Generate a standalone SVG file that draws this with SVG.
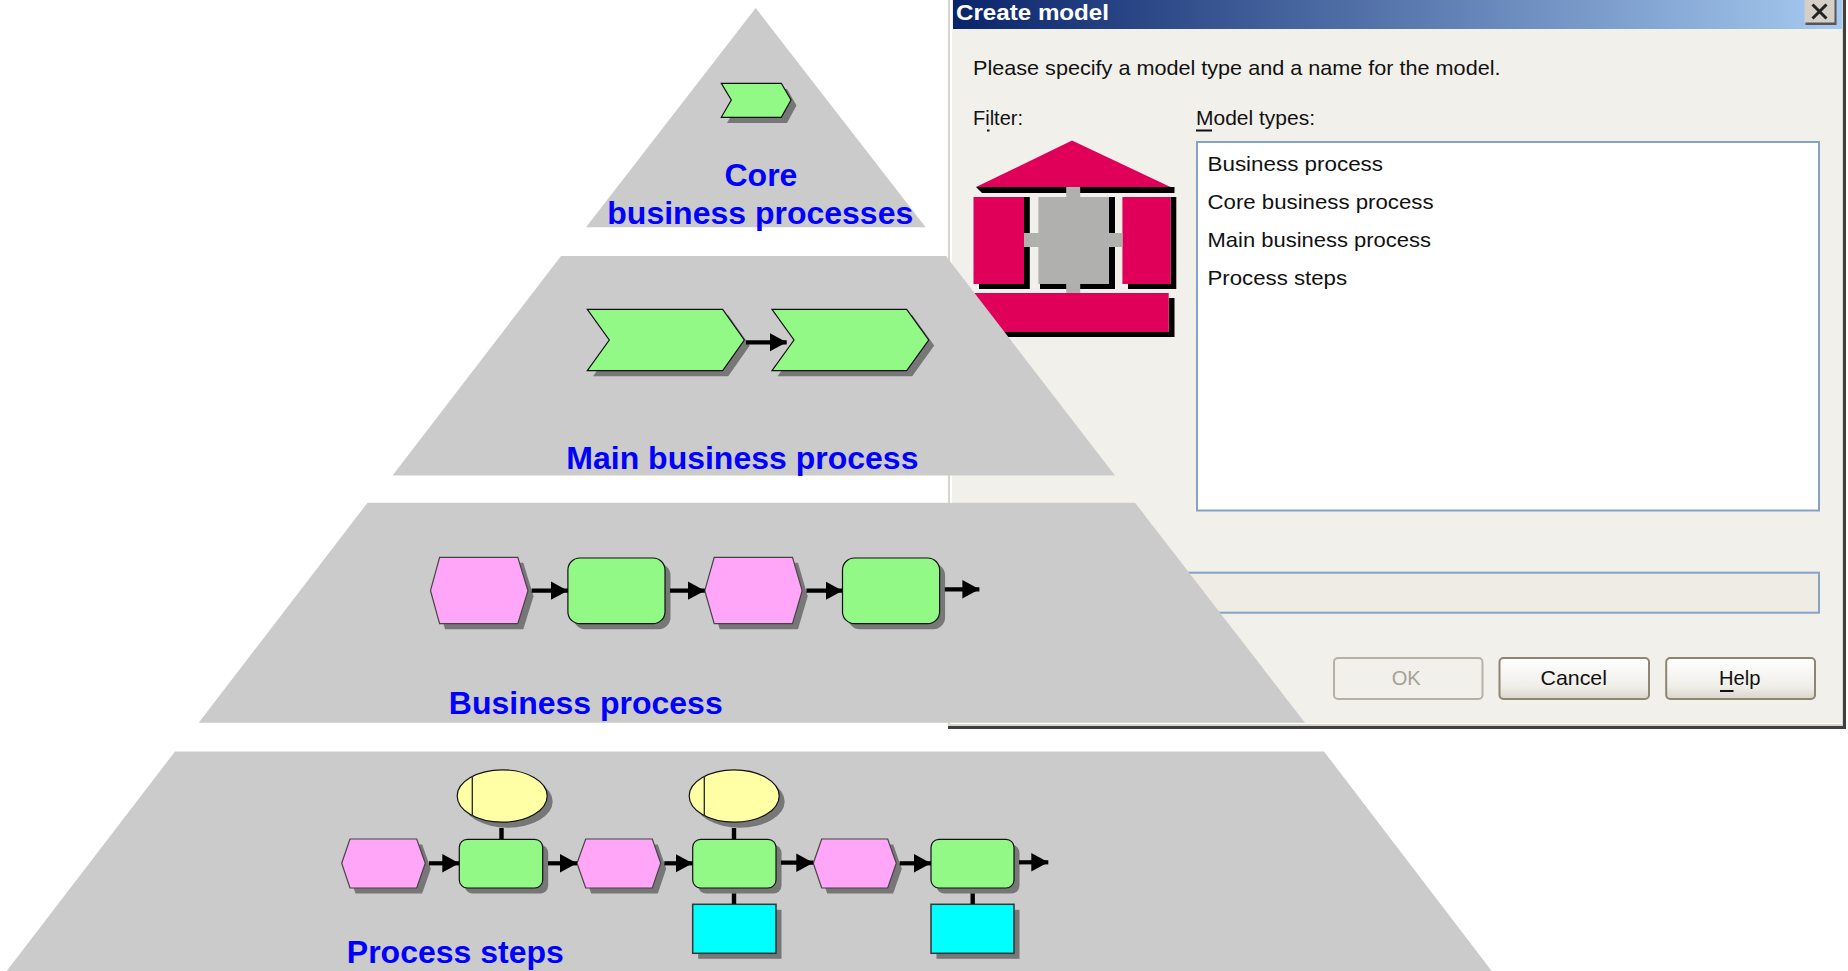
<svg xmlns="http://www.w3.org/2000/svg" width="1848" height="971" viewBox="0 0 1848 971">
<style>
text{font-family:"Liberation Sans",Arial,sans-serif}
.layer{fill:#cbcbcb}
.lbl{font-size:32px;font-weight:bold;fill:#0000ff}
.ui{font-size:21px;fill:#111}
.sh{fill:#777}
.chev,.fn{fill:#92f986;stroke:#111;stroke-width:1.2}
.ev{fill:#ffa6f9;stroke:#444;stroke-width:1.2}
.org{fill:#ffffa6;stroke:#111;stroke-width:1.2}
.info{fill:#00ffff;stroke:#333;stroke-width:1.5}
.box{fill:#fff;stroke:#86a3c4;stroke-width:2}
.btn{fill:url(#btnG);stroke:#8d8672;stroke-width:2}
.rose{fill:#e0005a}.blk{fill:#000}.gry{fill:#b0b0ae}
.arrow{stroke:#000;stroke-width:4.2;fill:none;marker-end:url(#head)}
.stub{stroke:#000;stroke-width:4.4;fill:none}
</style>
<defs>
<marker id="head" markerUnits="userSpaceOnUse" markerWidth="18" markerHeight="19" refX="17" refY="9.5" orient="auto"><path d="M0 0.300L17 9.500L0 18.700Z" fill="#000"/></marker>
<linearGradient id="title" x1="0" x2="1" y1="0" y2="0"><stop offset="0" stop-color="#0a246a"/><stop offset="1" stop-color="#a6caf0"/></linearGradient>
<linearGradient id="btnG" x1="0" x2="0" y1="0" y2="1"><stop offset="0" stop-color="#fff"/><stop offset=".7" stop-color="#f0eee8"/><stop offset="1" stop-color="#d9d5ca"/></linearGradient>
</defs>
<rect width="1848" height="971" fill="#fff"/>

<g id="dialog">
<rect x="948" y="-2" width="898" height="731" fill="#404040"/>
<rect x="948" y="-2" width="895" height="728" fill="#d8d5cc"/>
<rect x="950" y="-2" width="892" height="726" fill="#fff"/>
<rect x="952" y="-2" width="890" height="725" fill="#f1f0eb"/>
<rect x="953" y="-2" width="889" height="31" fill="url(#title)"/>
<text x="956" y="20" font-size="22" font-weight="bold" fill="#fff" textLength="153" lengthAdjust="spacingAndGlyphs">Create model</text>
<rect x="1805.500" y="-2" width="31" height="27" fill="#555"/>
<rect x="1804.500" y="-2" width="30" height="24.500" fill="#d4d0c8"/>
<path d="M1812.500 4.500L1826.500 18.500M1826.500 4.500L1812.500 18.500" stroke="#222" stroke-width="3"/>
<text class="ui" x="973" y="75" textLength="527.500" lengthAdjust="spacingAndGlyphs">Please specify a model type and a name for the model.</text>
<text class="ui" x="973" y="125" textLength="50" lengthAdjust="spacingAndGlyphs">Filter:</text>
<rect x="987" y="129.500" width="2.500" height="2" fill="#111"/>
<text class="ui" x="1196" y="125" textLength="119" lengthAdjust="spacingAndGlyphs">Model types:</text>
<rect x="1196" y="129.500" width="16" height="2" fill="#111"/>
<rect class="box" x="1197" y="142" width="622" height="368.500"/>
<text class="ui" x="1207.500" y="171" textLength="175.500" lengthAdjust="spacingAndGlyphs">Business process</text>
<text class="ui" x="1207.500" y="209" textLength="226" lengthAdjust="spacingAndGlyphs">Core business process</text>
<text class="ui" x="1207.500" y="247" textLength="223.500" lengthAdjust="spacingAndGlyphs">Main business process</text>
<text class="ui" x="1207.500" y="285" textLength="139.500" lengthAdjust="spacingAndGlyphs">Process steps</text>
<rect x="1150" y="572.700" width="669" height="40" fill="#efece5" stroke="#86a3c4" stroke-width="2"/>
<rect x="1334" y="658" width="148.500" height="41" rx="4" fill="#f1f0eb" stroke="#b5b2a5" stroke-width="2"/>
<text class="ui" x="1406.200" y="685" text-anchor="middle" style="fill:#a5a294" textLength="29" lengthAdjust="spacingAndGlyphs">OK</text>
<rect class="btn" x="1499.500" y="658" width="149.500" height="41" rx="4"/>
<text class="ui" x="1540.500" y="685" textLength="66.500" lengthAdjust="spacingAndGlyphs">Cancel</text>
<rect class="btn" x="1666.200" y="658" width="148.800" height="41" rx="4"/>
<text class="ui" x="1719" y="685" textLength="41.500" lengthAdjust="spacingAndGlyphs">Help</text>
<rect x="1720" y="690" width="13.500" height="2" fill="#111"/>
</g>

<g id="filter-icon">
<path class="blk" d="M976 187H1174.500V193H982Z"/>
<path class="rose" d="M1072 140.500L1170.500 187H976Z"/>
<path class="blk" d="M1024 197H1029.800V289H979V284H1024Z"/>
<rect class="rose" x="973.500" y="197" width="50.500" height="87"/>
<path class="blk" d="M1170.500 197H1176.300V289H1128V284H1170.500Z"/>
<rect class="rose" x="1122.400" y="197" width="48.100" height="87"/>
<path class="blk" d="M1109 197H1115V289H1040V284H1109Z"/>
<rect class="gry" x="1038.400" y="197" width="70.600" height="87"/>
<rect class="gry" x="1066.200" y="187" width="14" height="106"/>
<rect class="gry" x="1024" y="233" width="98.500" height="14"/>
<path class="blk" d="M1168.700 298H1174.500V337H980V332H1168.700Z"/>
<rect class="rose" x="973.500" y="293" width="195.200" height="39"/>
</g>

<g id="pyramid">
<polygon id="layer-core" class="layer" points="755.700,8 925.700,227.300 586,227.300"/>
<polygon id="layer-main" class="layer" points="561,256 946,256 1115,475.500 392.500,475.500"/>
<polygon id="layer-business" class="layer" points="367.500,502.700 1135,502.700 1305,722.800 198.700,722.800"/>
<polygon id="layer-steps" class="layer" points="175,751.500 1324,751.500 1491.700,971 6.700,971"/>
</g>

<g id="core-function">
<polygon class="sh" points="727,89 787,89 796.500,105.500 787,123 727,123 737,105.500"/>
<polygon class="chev" points="721.300,83.300 781.300,83.300 791,100 781.300,117.300 721.300,117.300 731.300,100"/>
</g>
<g id="main-function-1">
<polygon class="sh" points="593,315 728.200,315 749.800,345.500 728.200,376.200 593,376.200 615,345.500"/>
<polygon class="chev" points="587.300,309.300 722.700,309.300 744.300,340 722.700,370.700 587.300,370.700 609.300,340"/>
</g>
<g id="main-function-2">
<polygon class="sh" points="777.500,315 912.200,315 934.200,345.500 912.200,376.200 777.500,376.200 799.500,345.500"/>
<polygon class="chev" points="772,309.300 906.700,309.300 928.700,340 906.700,370.700 772,370.700 794,340"/>
</g>

<g id="bp-event-1">
<polygon class="sh" points="436,596.200 445,562.800 523.300,562.800 533.500,596.200 523.300,629.200 445,629.200"/>
<polygon class="ev" points="430.500,590.700 439.600,557.300 517.800,557.300 528,590.700 517.800,623.700 439.600,623.700"/>
</g>
<g id="bp-function-1">
<rect class="sh" x="573.400" y="563.500" width="97.100" height="65.700" rx="12"/>
<rect class="fn" x="567.900" y="558" width="97.100" height="65.700" rx="12"/>
</g>
<g id="bp-event-2">
<polygon class="sh" points="710.300,596.200 719.700,562.800 798,562.800 807.700,596.200 798,629.200 719.700,629.200"/>
<polygon class="ev" points="704.800,590.700 714.200,557.300 792.500,557.300 802.200,590.700 792.500,623.700 714.200,623.700"/>
</g>
<g id="bp-function-2">
<rect class="sh" x="848" y="563.500" width="97.100" height="65.700" rx="12"/>
<rect class="fn" x="842.500" y="558" width="97.100" height="65.700" rx="12"/>
</g>

<g id="ps-event-1">
<polygon class="sh" points="347.200,868.800 355.500,844.500 422.200,844.500 430.800,868.800 422.200,893.500 355.500,893.500"/>
<polygon class="ev" points="341.700,863.300 350,839 416.700,839 425.300,863.300 416.700,888 350,888"/>
</g>
<g id="ps-function-1">
<rect class="sh" x="464.800" y="844.800" width="83.400" height="48.700" rx="8"/>
<rect class="fn" x="459.300" y="839.300" width="83.400" height="48.700" rx="8"/>
</g>
<g id="ps-org-1">
<ellipse class="sh" cx="507.700" cy="801.500" rx="45" ry="26.200"/>
<ellipse class="org" cx="502.200" cy="796" rx="45" ry="26.200"/>
<line x1="472.300" y1="776" x2="472.300" y2="816" stroke="#222" stroke-width="1.300"/>
</g>
<g id="ps-event-2">
<polygon class="sh" points="582.500,868.800 591.200,844.500 657.800,844.500 666.200,868.800 657.800,893.500 591.200,893.500"/>
<polygon class="ev" points="577,863.300 585.700,839 652.300,839 660.700,863.300 652.300,888 585.700,888"/>
</g>
<g id="ps-function-2">
<rect class="sh" x="698.200" y="844.800" width="83.300" height="48.700" rx="8"/>
<rect class="fn" x="692.700" y="839.300" width="83.300" height="48.700" rx="8"/>
</g>
<g id="ps-org-2">
<ellipse class="sh" cx="739.700" cy="801.500" rx="45" ry="26.200"/>
<ellipse class="org" cx="734.200" cy="796" rx="45" ry="26.200"/>
<line x1="704.300" y1="776" x2="704.300" y2="816" stroke="#222" stroke-width="1.300"/>
</g>
<g id="ps-info-1">
<rect class="sh" x="698.200" y="909.800" width="83.300" height="49"/>
<rect class="info" x="692.700" y="904.300" width="83.300" height="49"/>
</g>
<g id="ps-event-3">
<polygon class="sh" points="818.800,868.800 827.200,844.500 893.200,844.500 901.800,868.800 893.200,893.500 827.200,893.500"/>
<polygon class="ev" points="813.300,863.300 821.700,839 887.700,839 896.300,863.300 887.700,888 821.700,888"/>
</g>
<g id="ps-function-3">
<rect class="sh" x="936.500" y="844.800" width="83" height="48.700" rx="8"/>
<rect class="fn" x="931" y="839.300" width="83" height="48.700" rx="8"/>
</g>
<g id="ps-info-2">
<rect class="sh" x="936.500" y="909.800" width="83" height="49"/>
<rect class="info" x="931" y="904.300" width="83" height="49"/>
</g>

<g id="connectors">
<line class="arrow" x1="746" y1="342.300" x2="786.700" y2="342.300"/>
<line class="arrow" x1="531.700" y1="590.700" x2="567.900" y2="590.700"/>
<line class="arrow" x1="670" y1="590.700" x2="704.800" y2="590.700"/>
<line class="arrow" x1="806.400" y1="590.700" x2="842.500" y2="590.700"/>
<line class="arrow" x1="944.800" y1="589.300" x2="979.400" y2="589.300"/>
<line class="arrow" x1="429" y1="863.300" x2="459.300" y2="863.300"/>
<line class="arrow" x1="548" y1="863.300" x2="577" y2="863.300"/>
<line class="arrow" x1="664.300" y1="863.300" x2="692.700" y2="863.300"/>
<line class="arrow" x1="781" y1="862.700" x2="813.300" y2="862.700"/>
<line class="arrow" x1="899.700" y1="863.300" x2="931" y2="863.300"/>
<line class="arrow" x1="1019" y1="862.300" x2="1048.300" y2="862.300"/>
<line class="stub" x1="501.500" y1="828" x2="501.500" y2="839"/>
<line class="stub" x1="734" y1="828" x2="734" y2="839"/>
<line class="stub" x1="734" y1="893.500" x2="734" y2="904"/>
<line class="stub" x1="972.700" y1="893.500" x2="972.700" y2="904"/>
</g>

<g id="labels">
<text class="lbl" x="724.500" y="185.500">Core</text>
<text class="lbl" x="607.300" y="223.700">business processes</text>
<text class="lbl" x="566.300" y="468.800">Main business process</text>
<text class="lbl" x="448.800" y="713.700">Business process</text>
<text class="lbl" x="346.800" y="963.300">Process steps</text>
</g>
</svg>
